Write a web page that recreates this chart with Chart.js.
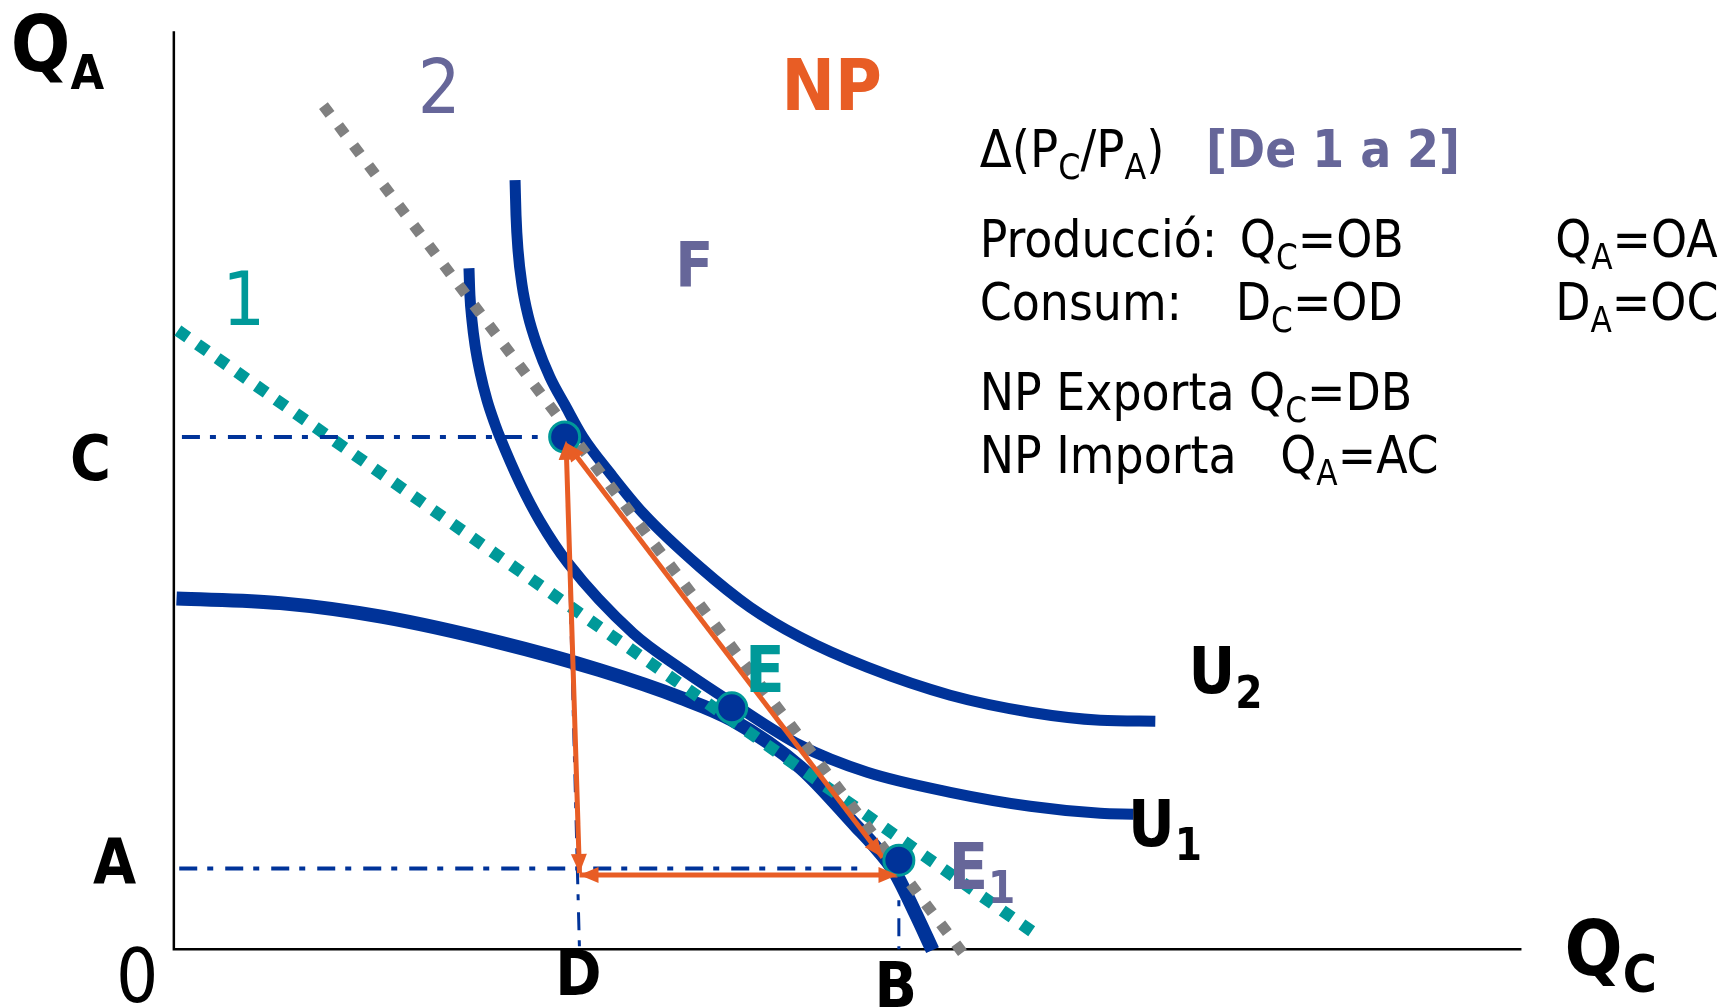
<!DOCTYPE html>
<html>
<head>
<meta charset="utf-8">
<script src="https://cdn.jsdelivr.net/npm/chart.js@4.4.1/dist/chart.umd.min.js"></script>
<style>
  html, body { margin: 0; padding: 0; background: #fff; overflow: hidden; }
</style>
</head>
<body>
<canvas id="chart" width="1729" height="1008"></canvas>
<script>
// values, in axis units (0..100 along each axis)
const ppfX = [0.2, 7.9, 15.5, 24.2, 31.6, 37.6, 41.4, 46.5, 50.7, 51.9, 53.5, 55.0, 56.3];
const ppfY = [38.2, 37.7, 36.2, 33.4, 30.4, 27.4, 25.0, 19.8, 13.3, 11.4, 8.4, 4.0, -0.1];

const u1X = [21.9, 21.97, 22.12, 22.35, 22.72, 23.24, 23.83, 24.2, 25.69, 27.17, 29.25, 34.08, 37.79, 41.35, 46.47, 51.45, 57.61, 63.55, 68.75, 71.2];
const u1Y = [74.18, 71.24, 68.52, 65.8, 62.85, 59.8, 57.19, 55.77, 50.76, 46.62, 42.05, 34.42, 30.39, 26.91, 22.22, 19.28, 17.1, 15.58, 14.81, 14.71];

const u2X = [25.32, 25.39, 25.54, 25.84, 26.28, 26.95, 27.91, 29.03, 30.36, 32.37, 34.82, 39.05, 42.76, 46.47, 51.45, 57.61, 63.55, 68.75, 72.83];
const u2Y = [83.77, 79.96, 76.14, 72.33, 69.06, 65.8, 62.31, 59.26, 55.77, 51.85, 47.49, 41.61, 37.25, 33.99, 30.72, 27.67, 25.82, 24.95, 24.84];

// relative price lines 1 and 2
const price1X = [0.3, 64.1];
const price1Y = [67.4, 1.5];
const price2X = [11.1, 59.1];
const price2Y = [91.9, -1.5];

// C = consumption, E = autarky, E1 = production
const pointX = [29.0, 41.4, 53.8];
const pointY = [55.8, 26.3, 9.7];

// dash-dot guides to the axes
const guideC = { x: [0.6, 27.0], y: [55.8, 55.8] };
const guideA = { x: [0.4, 51.5], y: [8.8, 8.8] };
const guideD = { x: [29.4, 30.1], y: [39.1, 0] };
const guideB = { x: [53.8, 53.8], y: [8.4, 0] };

// trade triangle (double headed arrows)
const tradeV = { x: [29.1, 30.1], y: [55.4, 8.3] };
const tradeH = { x: [30.1, 53.7], y: [8.1, 8.1] };
const tradeD = { x: [29.1, 52.6], y: [55.2, 10.0] };

const axisX = [0, 0, 100];
const axisY = [100, 0, 0];

const BLUE = '#003399', TEAL = '#009999', GREY = '#808080';
const ORANGE = '#E85D25', PURPLE = '#666699', INK = '#000';
const FONT = "'DejaVu Sans Condensed', 'DejaVu Sans', sans-serif";

const xy = (xs, ys) => xs.map((x, i) => ({ x, y: ys[i] }));

const labels = [
  { text: 'Q_{A}', x: -12.1, y: 95.7, size: 78, bold: true, color: INK, sub: 0.62 },
  { text: '0', x: -4.3, y: -5.8, size: 74, color: INK },
  { text: 'C', x: -7.7, y: 51.1, size: 62, bold: true, color: INK },
  { text: 'A', x: -6.0, y: 7.2, size: 62, bold: true, color: INK },
  { text: 'D', x: 28.3, y: -5.0, size: 62, bold: true, color: INK },
  { text: 'B', x: 52.0, y: -6.3, size: 62, bold: true, color: INK },
  { text: 'Q_{C}', x: 103.2, y: -2.8, size: 76, bold: true, color: INK },
  { text: '1', x: 3.6, y: 68.0, size: 75, color: TEAL },
  { text: '2', x: 18.1, y: 91.1, size: 75, color: PURPLE },
  { text: 'NP', x: 45.1, y: 91.4, size: 71, bold: true, color: ORANGE },
  { text: 'F', x: 37.2, y: 72.3, size: 62, bold: true, color: PURPLE },
  { text: 'E', x: 42.4, y: 28.0, size: 64, bold: true, color: TEAL },
  { text: 'E_{1}', x: 57.5, y: 6.6, size: 64, bold: true, color: PURPLE },
  { text: 'U_{2}', x: 75.3, y: 27.9, size: 64, bold: true, color: INK },
  { text: 'U_{1}', x: 70.8, y: 11.3, size: 64, bold: true, color: INK },
  { text: 'Δ(P_{C}/P_{A})', x: 59.8, y: 85.2, size: 52, color: INK },
  { text: '[De 1 a 2]', x: 76.6, y: 85.2, size: 51, bold: true, color: PURPLE },
  { text: 'Producció:', x: 59.8, y: 75.4, size: 51, color: INK },
  { text: 'Q_{C}=OB', x: 79.1, y: 75.4, size: 51, color: INK },
  { text: 'Q_{A}=OA', x: 102.5, y: 75.4, size: 51, color: INK },
  { text: 'Consum:', x: 59.8, y: 68.5, size: 51, color: INK },
  { text: 'D_{C}=OD', x: 78.8, y: 68.5, size: 51, color: INK },
  { text: 'D_{A}=OC', x: 102.5, y: 68.5, size: 51, color: INK },
  { text: 'NP Exporta Q_{C}=DB', x: 59.8, y: 58.7, size: 51, color: INK },
  { text: 'NP Importa', x: 59.8, y: 51.9, size: 51, color: INK },
  { text: 'Q_{A}=AC', x: 82.1, y: 51.9, size: 51, color: INK }
];

function drawRich(ctx, lab, px, py) {
  const parts = lab.text.split(/_\{([^}]*)\}/);
  const subScale = lab.sub || 0.68;
  let cx = px;
  parts.forEach((t, i) => {
    if (!t) return;
    const isSub = i % 2 === 1;
    const fs = isSub ? lab.size * subScale : lab.size;
    ctx.font = `${lab.bold ? 'bold ' : ''}${fs}px ${FONT}`;
    ctx.fillText(t, cx, isSub ? py + lab.size * 0.23 : py);
    cx += ctx.measureText(t).width;
  });
}

const textPlugin = {
  id: 'texts',
  afterDraw(chart) {
    const { ctx, scales } = chart;
    ctx.save();
    ctx.textBaseline = 'alphabetic';
    ctx.textAlign = 'left';
    labels.forEach(lab => {
      ctx.fillStyle = lab.color;
      drawRich(ctx, lab, scales.x.getPixelForValue(lab.x), scales.y.getPixelForValue(lab.y));
    });
    ctx.restore();
  }
};

// arrow heads on both ends of the trade lines
const arrowPlugin = {
  id: 'arrows',
  afterDatasetsDraw(chart) {
    const ctx = chart.ctx;
    chart.data.datasets.forEach((ds, i) => {
      if (!ds.arrow) return;
      const pts = chart.getDatasetMeta(i).data;
      [[pts[0], pts[1]], [pts[1], pts[0]]].forEach(([tip, from]) => {
        const a = Math.atan2(tip.y - from.y, tip.x - from.x);
        const len = 19, half = 8;
        ctx.save();
        ctx.fillStyle = ORANGE;
        ctx.beginPath();
        ctx.moveTo(tip.x, tip.y);
        ctx.lineTo(tip.x - len * Math.cos(a) + half * Math.sin(a), tip.y - len * Math.sin(a) - half * Math.cos(a));
        ctx.lineTo(tip.x - len * Math.cos(a) - half * Math.sin(a), tip.y - len * Math.sin(a) + half * Math.cos(a));
        ctx.closePath();
        ctx.fill();
        ctx.restore();
      });
    });
  }
};

const line = (data, color, width, extra) => Object.assign({
  data, borderColor: color, borderWidth: width, showLine: true,
  pointRadius: 0, fill: false, tension: 0
}, extra);

const smooth = { cubicInterpolationMode: 'monotone' };

new Chart(document.getElementById('chart'), {
  type: 'scatter',
  data: {
    datasets: [
      {
        data: xy(pointX, pointY), pointRadius: 15, pointBorderWidth: 3,
        pointBackgroundColor: BLUE, pointBorderColor: TEAL, showLine: false
      },
      line(xy(tradeV.x, tradeV.y), ORANGE, 5, { arrow: true }),
      line(xy(tradeH.x, tradeH.y), ORANGE, 5, { arrow: true }),
      line(xy(tradeD.x, tradeD.y), ORANGE, 5, { arrow: true }),
      line(xy(guideC.x, guideC.y), BLUE, 4, { borderDash: [18, 10, 6, 12] }),
      line(xy(guideA.x, guideA.y), BLUE, 4, { borderDash: [18, 10, 6, 12] }),
      line(xy(guideD.x, guideD.y), BLUE, 3, { borderDash: [18, 10, 6, 12] }),
      line(xy(guideB.x, guideB.y), BLUE, 3, { borderDash: [18, 10, 6, 12] }),
      line(xy(price2X, price2Y), GREY, 11, { borderDash: [11, 14] }),
      line(xy(price1X, price1Y), TEAL, 12, { borderDash: [12, 12] }),
      line(xy(u2X, u2Y), BLUE, 11, smooth),
      line(xy(u1X, u1Y), BLUE, 11, smooth),
      line(xy(ppfX, ppfY), BLUE, 14, smooth),
      line(xy(axisX, axisY), INK, 2.5)
    ]
  },
  options: {
    responsive: false,
    animation: false,
    layout: { padding: 0, autoPadding: false },
    plugins: { legend: { display: false }, tooltip: { enabled: false } },
    scales: {
      x: { type: 'linear', min: -12.9, max: 115.4, display: false },
      y: { type: 'linear', min: -6.4, max: 103.4, display: false }
    }
  },
  plugins: [arrowPlugin, textPlugin]
});
</script>
</body>
</html>
